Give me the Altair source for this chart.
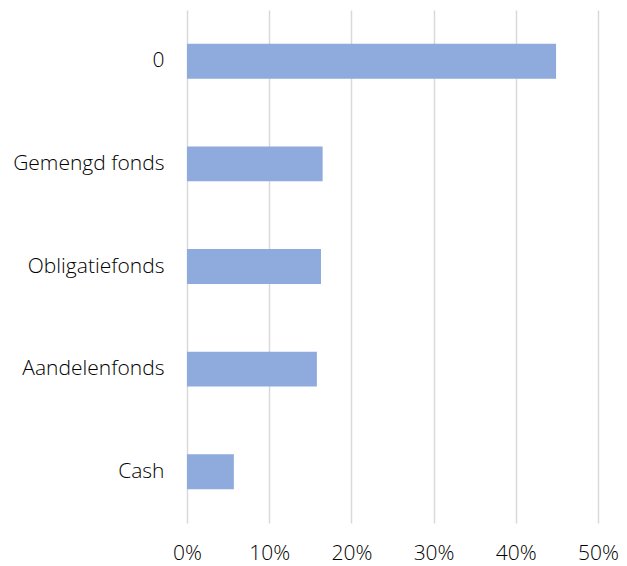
import altair as alt
import pandas as pd

categories = ["0", "Gemengd fonds", "Obligatiefonds", "Aandelenfonds", "Cash"]
values = [0.449, 0.165, 0.163, 0.158, 0.057]
x_ticks = [0, 0.1, 0.2, 0.3, 0.4, 0.5]

df = pd.DataFrame({"category": categories, "value": values})

FONT = "Open Sans"

chart = alt.Chart(df).mark_bar(color="#8FAADC").encode(
    x=alt.X(
        "value:Q",
        scale=alt.Scale(domain=[0, 0.5], nice=False),
        axis=alt.Axis(
            values=x_ticks, format=".0%", title=None, domain=False, ticks=False,
            grid=True, gridColor="#D9D9D9", gridWidth=1.5,
            labelFont=FONT, labelFontSize=21, labelColor="#000000",
            labelFontWeight=300, labelPadding=19, labelFlush=False,
        ),
    ),
    y=alt.Y(
        "category:N",
        sort=categories,
        scale=alt.Scale(paddingInner=0.66, paddingOuter=0.33),
        axis=alt.Axis(
            title=None, domain=False, ticks=False, grid=False,
            labelFont=FONT, labelFontSize=21, labelColor="#000000",
            labelFontWeight=300, labelPadding=23, labelLimit=300,
        ),
    ),
).properties(
    width=411,
    height=513,
    autosize=alt.AutoSizeParams(type="none"),
    padding={"left": 187, "top": 10, "right": 29, "bottom": 43},
    background="#FFFFFF",
).configure_view(stroke=None, strokeWidth=0)

chart.save("out.html", embed_options={"renderer": "svg", "actions": False})
